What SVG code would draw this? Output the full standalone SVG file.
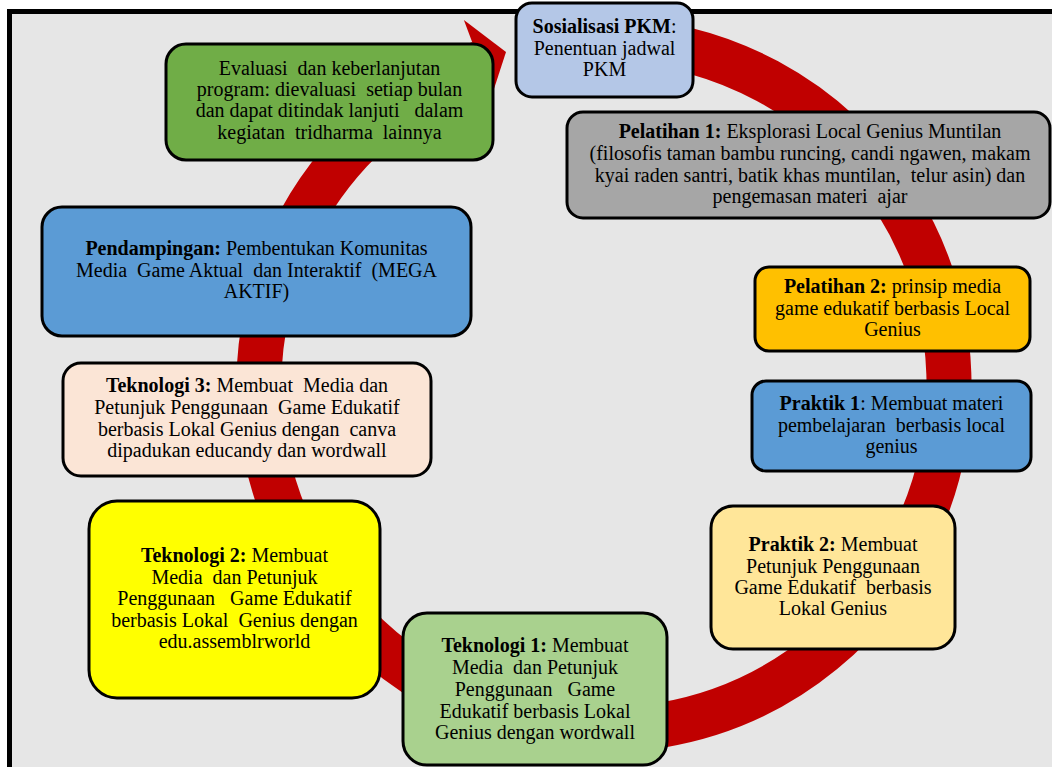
<svg xmlns="http://www.w3.org/2000/svg" width="1052" height="767" viewBox="0 0 1052 767">
<style>
.box{stroke:#000;stroke-width:3}
text{font-family:"Liberation Serif","Times New Roman",serif;font-size:20px;fill:#000;text-anchor:middle;white-space:pre}
.b{font-weight:bold}
</style>
<rect x="0" y="0" width="1052" height="767" fill="#ffffff"/>
<rect x="9.5" y="11.5" width="1100" height="800" fill="#e6e6e6" stroke="#000" stroke-width="5"/>
<g id="connectors">
<path d="M616,40.2 A345,345 0 1 1 480.4,62.9" fill="none" stroke="#c00000" stroke-width="45"/>
<polygon points="463.9,20 506,52 492,95" fill="#c00000"/>
</g>
<g id="sosialisasi">
<rect class="box" x="516" y="3" width="177" height="94" rx="16" fill="#b4c7e7"/>
<text x="604.5" y="33"><tspan class="b">Sosialisasi PKM</tspan>:</text>
<text x="604.5" y="55">Penentuan jadwal</text>
<text x="604.5" y="76">PKM</text>
</g>
<g id="evaluasi">
<rect class="box" x="166" y="44" width="327" height="116" rx="20" fill="#70ad47"/>
<text x="329.5" y="75">Evaluasi  dan keberlanjutan</text>
<text x="329.5" y="96">program: dievaluasi  setiap bulan</text>
<text x="329.5" y="117">dan dapat ditindak lanjuti   dalam</text>
<text x="329.5" y="139">kegiatan  tridharma  lainnya</text>
</g>
<g id="pelatihan1">
<rect class="box" x="567" y="112" width="483" height="106" rx="16" fill="#a6a6a6"/>
<text x="810" y="138"><tspan class="b">Pelatihan 1:</tspan> Eksplorasi Local Genius Muntilan</text>
<text x="810" y="160">(filosofis taman bambu runcing, candi ngawen, makam</text>
<text x="810" y="182">kyai raden santri, batik khas muntilan,  telur asin) dan</text>
<text x="810" y="203">pengemasan materi  ajar</text>
</g>
<g id="pendampingan">
<rect class="box" x="42" y="207" width="429" height="129" rx="20" fill="#5b9bd5"/>
<text x="256.5" y="255"><tspan class="b">Pendampingan:</tspan> Pembentukan Komunitas</text>
<text x="256.5" y="277">Media  Game Aktual  dan Interaktif  (MEGA</text>
<text x="256.5" y="298">AKTIF)</text>
</g>
<g id="pelatihan2">
<rect class="box" x="755" y="267" width="275" height="84" rx="14" fill="#ffc000"/>
<text x="892.5" y="293"><tspan class="b">Pelatihan 2:</tspan> prinsip media</text>
<text x="892.5" y="315">game edukatif berbasis Local</text>
<text x="892.5" y="336">Genius</text>
</g>
<g id="praktik1">
<rect class="box" x="752" y="381" width="279" height="90" rx="14" fill="#5b9bd5"/>
<text x="891.5" y="410"><tspan class="b">Praktik 1</tspan>: Membuat materi</text>
<text x="891.5" y="432">pembelajaran  berbasis local</text>
<text x="891.5" y="453">genius</text>
</g>
<g id="teknologi3">
<rect class="box" x="63" y="363" width="368" height="113" rx="18" fill="#fbe5d6"/>
<text x="247" y="392"><tspan class="b">Teknologi 3:</tspan> Membuat  Media dan</text>
<text x="247" y="414">Petunjuk Penggunaan  Game Edukatif</text>
<text x="247" y="436">berbasis Lokal Genius dengan  canva</text>
<text x="247" y="457">dipadukan educandy dan wordwall</text>
</g>
<g id="praktik2">
<rect class="box" x="711" y="506" width="244" height="143" rx="22" fill="#ffe699"/>
<text x="833" y="551"><tspan class="b">Praktik 2:</tspan> Membuat</text>
<text x="833" y="573">Petunjuk Penggunaan</text>
<text x="833" y="594">Game Edukatif  berbasis</text>
<text x="833" y="615">Lokal Genius</text>
</g>
<g id="teknologi2">
<rect class="box" x="89" y="501" width="291" height="197" rx="28" fill="#ffff00"/>
<text x="234.5" y="562"><tspan class="b">Teknologi 2:</tspan> Membuat</text>
<text x="234.5" y="584">Media  dan Petunjuk</text>
<text x="234.5" y="605">Penggunaan   Game Edukatif</text>
<text x="234.5" y="627">berbasis Lokal  Genius dengan</text>
<text x="234.5" y="648">edu.assemblrworld</text>
</g>
<g id="teknologi1">
<rect class="box" x="403" y="613" width="264" height="152" rx="24" fill="#a9d18e"/>
<text x="535" y="652"><tspan class="b">Teknologi 1:</tspan> Membuat</text>
<text x="535" y="674">Media  dan Petunjuk</text>
<text x="535" y="696">Penggunaan   Game</text>
<text x="535" y="718">Edukatif berbasis Lokal</text>
<text x="535" y="739">Genius dengan wordwall</text>
</g>
</svg>
